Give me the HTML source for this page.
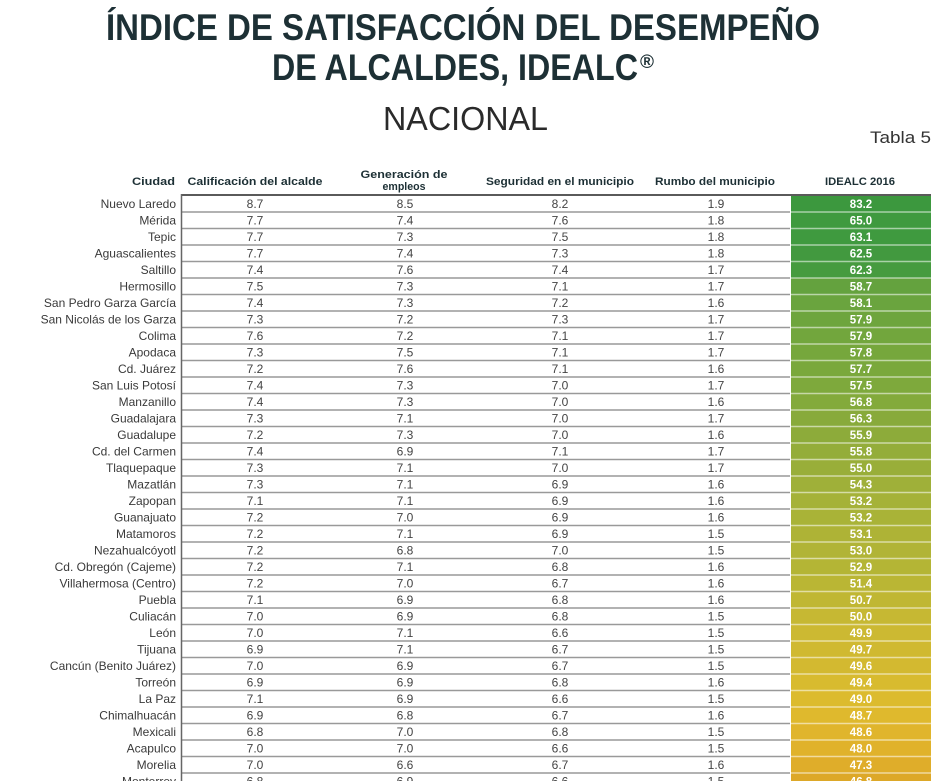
<!DOCTYPE html>
<html><head><meta charset="utf-8"><style>
html,body{margin:0;padding:0;background:#fff;}
svg{display:block;}
.c{font-family:"Liberation Sans",sans-serif;font-size:12px;fill:#3a3a3a;text-anchor:end;}
.v{font-family:"Liberation Sans",sans-serif;font-size:12px;fill:#444;text-anchor:middle;}
.g{font-family:"Liberation Sans",sans-serif;font-size:11.5px;font-weight:bold;fill:#fff;text-anchor:middle;}
.h{font-family:"Liberation Sans",sans-serif;font-size:11px;font-weight:bold;fill:#1d3035;text-anchor:middle;}
</style></head><body>
<svg width="949" height="781" viewBox="0 0 949 781" xmlns="http://www.w3.org/2000/svg">
<rect width="949" height="781" fill="#fff"/>
<text x="106" y="40" textLength="714" lengthAdjust="spacingAndGlyphs" font-family="Liberation Sans, sans-serif" font-weight="bold" font-size="37" fill="#1d3035">ÍNDICE DE SATISFACCIÓN DEL DESEMPEÑO</text>
<text x="272" y="80" textLength="366" lengthAdjust="spacingAndGlyphs" font-family="Liberation Sans, sans-serif" font-weight="bold" font-size="37" fill="#1d3035">DE ALCALDES, IDEALC</text>
<text x="640" y="68" font-family="Liberation Sans, sans-serif" font-weight="bold" font-size="19" fill="#1d3035">®</text>
<text x="383" y="130" textLength="165" lengthAdjust="spacingAndGlyphs" font-family="Liberation Sans, sans-serif" font-size="33" fill="#2a2a2a">NACIONAL</text>
<text x="870" y="143" textLength="61" lengthAdjust="spacingAndGlyphs" font-family="Liberation Sans, sans-serif" font-size="17" fill="#333">Tabla 5</text>

<text class="h" x="175" y="185" style="text-anchor:end" textLength="43" lengthAdjust="spacingAndGlyphs">Ciudad</text>
<text class="h" x="255" y="185" textLength="135" lengthAdjust="spacingAndGlyphs">Calificación del alcalde</text>
<text class="h" x="404" y="178" textLength="87" lengthAdjust="spacingAndGlyphs">Generación de</text>
<text class="h" x="404" y="190" textLength="43" lengthAdjust="spacingAndGlyphs">empleos</text>
<text class="h" x="560" y="185" textLength="148" lengthAdjust="spacingAndGlyphs">Seguridad en el municipio</text>
<text class="h" x="715" y="185" textLength="120" lengthAdjust="spacingAndGlyphs">Rumbo del municipio</text>
<text class="h" x="860" y="185" textLength="70" lengthAdjust="spacingAndGlyphs">IDEALC 2016</text>

<!-- green column -->
<g>
<rect x="791" y="194.5" width="140" height="17.5" fill="#3c983e"/>
<rect x="791" y="212" width="140" height="16.5" fill="#3f9a3f"/>
<rect x="791" y="228.5" width="140" height="16.5" fill="#3f9a3f"/>
<rect x="791" y="245" width="140" height="16.5" fill="#42993f"/>
<rect x="791" y="261.5" width="140" height="16.5" fill="#469b3f"/>
<rect x="791" y="278" width="140" height="16.5" fill="#64a23e"/>
<rect x="791" y="294.5" width="140" height="16.5" fill="#6aa43e"/>
<rect x="791" y="311" width="140" height="16.5" fill="#6ea53d"/>
<rect x="791" y="327.5" width="140" height="16.5" fill="#72a63d"/>
<rect x="791" y="344" width="140" height="16.5" fill="#76a73c"/>
<rect x="791" y="360.5" width="140" height="16.5" fill="#7aa83c"/>
<rect x="791" y="377" width="140" height="16.5" fill="#7ea93c"/>
<rect x="791" y="393.5" width="140" height="16.5" fill="#83aa3b"/>
<rect x="791" y="410" width="140" height="16.5" fill="#88aa3b"/>
<rect x="791" y="426.5" width="140" height="16.5" fill="#8dab3a"/>
<rect x="791" y="443" width="140" height="16.5" fill="#94ad3a"/>
<rect x="791" y="459.5" width="140" height="16.5" fill="#99ae39"/>
<rect x="791" y="476" width="140" height="16.5" fill="#9fb039"/>
<rect x="791" y="492.5" width="140" height="16.5" fill="#a5b238"/>
<rect x="791" y="509" width="140" height="16.5" fill="#a9b337"/>
<rect x="791" y="525.5" width="140" height="16.5" fill="#aeb336"/>
<rect x="791" y="542" width="140" height="16.5" fill="#b1b436"/>
<rect x="791" y="558.5" width="140" height="16.5" fill="#b4b535"/>
<rect x="791" y="575" width="140" height="16.5" fill="#bab634"/>
<rect x="791" y="591.5" width="140" height="16.5" fill="#c0b733"/>
<rect x="791" y="608" width="140" height="16.5" fill="#c6b833"/>
<rect x="791" y="624.5" width="140" height="16.5" fill="#ccb932"/>
<rect x="791" y="641" width="140" height="16.5" fill="#d0b931"/>
<rect x="791" y="657.5" width="140" height="16.5" fill="#d3b930"/>
<rect x="791" y="674" width="140" height="16.5" fill="#d8bb2f"/>
<rect x="791" y="690.5" width="140" height="16.5" fill="#dcbb2e"/>
<rect x="791" y="707" width="140" height="16.5" fill="#dfb92d"/>
<rect x="791" y="723.5" width="140" height="16.5" fill="#e0b52c"/>
<rect x="791" y="740" width="140" height="16.5" fill="#e0b22b"/>
<rect x="791" y="756.5" width="140" height="16.5" fill="#dfad2a"/>
<rect x="791" y="773" width="140" height="8" fill="#dda828"/>
</g>
<!-- lines -->
<g stroke-width="1.4">
<g stroke="#999">
<line x1="181" y1="212" x2="790" y2="212"/><line x1="181" y1="228.5" x2="790" y2="228.5"/><line x1="181" y1="245" x2="790" y2="245"/><line x1="181" y1="261.5" x2="790" y2="261.5"/><line x1="181" y1="278" x2="790" y2="278"/><line x1="181" y1="294.5" x2="790" y2="294.5"/><line x1="181" y1="311" x2="790" y2="311"/><line x1="181" y1="327.5" x2="790" y2="327.5"/><line x1="181" y1="344" x2="790" y2="344"/><line x1="181" y1="360.5" x2="790" y2="360.5"/><line x1="181" y1="377" x2="790" y2="377"/><line x1="181" y1="393.5" x2="790" y2="393.5"/><line x1="181" y1="410" x2="790" y2="410"/><line x1="181" y1="426.5" x2="790" y2="426.5"/><line x1="181" y1="443" x2="790" y2="443"/><line x1="181" y1="459.5" x2="790" y2="459.5"/><line x1="181" y1="476" x2="790" y2="476"/><line x1="181" y1="492.5" x2="790" y2="492.5"/><line x1="181" y1="509" x2="790" y2="509"/><line x1="181" y1="525.5" x2="790" y2="525.5"/><line x1="181" y1="542" x2="790" y2="542"/><line x1="181" y1="558.5" x2="790" y2="558.5"/><line x1="181" y1="575" x2="790" y2="575"/><line x1="181" y1="591.5" x2="790" y2="591.5"/><line x1="181" y1="608" x2="790" y2="608"/><line x1="181" y1="624.5" x2="790" y2="624.5"/><line x1="181" y1="641" x2="790" y2="641"/><line x1="181" y1="657.5" x2="790" y2="657.5"/><line x1="181" y1="674" x2="790" y2="674"/><line x1="181" y1="690.5" x2="790" y2="690.5"/><line x1="181" y1="707" x2="790" y2="707"/><line x1="181" y1="723.5" x2="790" y2="723.5"/><line x1="181" y1="740" x2="790" y2="740"/><line x1="181" y1="756.5" x2="790" y2="756.5"/><line x1="181" y1="773" x2="790" y2="773"/>
</g>
<g stroke="#fff" stroke-opacity="0.55">
<line x1="791" y1="212" x2="931" y2="212"/><line x1="791" y1="228.5" x2="931" y2="228.5"/><line x1="791" y1="245" x2="931" y2="245"/><line x1="791" y1="261.5" x2="931" y2="261.5"/><line x1="791" y1="278" x2="931" y2="278"/><line x1="791" y1="294.5" x2="931" y2="294.5"/><line x1="791" y1="311" x2="931" y2="311"/><line x1="791" y1="327.5" x2="931" y2="327.5"/><line x1="791" y1="344" x2="931" y2="344"/><line x1="791" y1="360.5" x2="931" y2="360.5"/><line x1="791" y1="377" x2="931" y2="377"/><line x1="791" y1="393.5" x2="931" y2="393.5"/><line x1="791" y1="410" x2="931" y2="410"/><line x1="791" y1="426.5" x2="931" y2="426.5"/><line x1="791" y1="443" x2="931" y2="443"/><line x1="791" y1="459.5" x2="931" y2="459.5"/><line x1="791" y1="476" x2="931" y2="476"/><line x1="791" y1="492.5" x2="931" y2="492.5"/><line x1="791" y1="509" x2="931" y2="509"/><line x1="791" y1="525.5" x2="931" y2="525.5"/><line x1="791" y1="542" x2="931" y2="542"/><line x1="791" y1="558.5" x2="931" y2="558.5"/><line x1="791" y1="575" x2="931" y2="575"/><line x1="791" y1="591.5" x2="931" y2="591.5"/><line x1="791" y1="608" x2="931" y2="608"/><line x1="791" y1="624.5" x2="931" y2="624.5"/><line x1="791" y1="641" x2="931" y2="641"/><line x1="791" y1="657.5" x2="931" y2="657.5"/><line x1="791" y1="674" x2="931" y2="674"/><line x1="791" y1="690.5" x2="931" y2="690.5"/><line x1="791" y1="707" x2="931" y2="707"/><line x1="791" y1="723.5" x2="931" y2="723.5"/><line x1="791" y1="740" x2="931" y2="740"/><line x1="791" y1="756.5" x2="931" y2="756.5"/><line x1="791" y1="773" x2="931" y2="773"/>
</g>
<line x1="181" y1="195" x2="931" y2="195" stroke="#5a5a5a" stroke-width="2"/>
<line x1="181.5" y1="194" x2="181.5" y2="781" stroke="#666" stroke-width="1.5"/>
</g>

<!-- rows -->
<g>
<text class="c" x="176" y="208">Nuevo Laredo</text><text class="v" x="255" y="208">8.7</text><text class="v" x="405" y="208">8.5</text><text class="v" x="560" y="208">8.2</text><text class="v" x="716" y="208">1.9</text><text class="g" x="861" y="208">83.2</text>
<text class="c" x="176" y="224.5">Mérida</text><text class="v" x="255" y="224.5">7.7</text><text class="v" x="405" y="224.5">7.4</text><text class="v" x="560" y="224.5">7.6</text><text class="v" x="716" y="224.5">1.8</text><text class="g" x="861" y="224.5">65.0</text>
<text class="c" x="176" y="241">Tepic</text><text class="v" x="255" y="241">7.7</text><text class="v" x="405" y="241">7.3</text><text class="v" x="560" y="241">7.5</text><text class="v" x="716" y="241">1.8</text><text class="g" x="861" y="241">63.1</text>
<text class="c" x="176" y="257.5">Aguascalientes</text><text class="v" x="255" y="257.5">7.7</text><text class="v" x="405" y="257.5">7.4</text><text class="v" x="560" y="257.5">7.3</text><text class="v" x="716" y="257.5">1.8</text><text class="g" x="861" y="257.5">62.5</text>
<text class="c" x="176" y="274">Saltillo</text><text class="v" x="255" y="274">7.4</text><text class="v" x="405" y="274">7.6</text><text class="v" x="560" y="274">7.4</text><text class="v" x="716" y="274">1.7</text><text class="g" x="861" y="274">62.3</text>
<text class="c" x="176" y="290.5">Hermosillo</text><text class="v" x="255" y="290.5">7.5</text><text class="v" x="405" y="290.5">7.3</text><text class="v" x="560" y="290.5">7.1</text><text class="v" x="716" y="290.5">1.7</text><text class="g" x="861" y="290.5">58.7</text>
<text class="c" x="176" y="307">San Pedro Garza García</text><text class="v" x="255" y="307">7.4</text><text class="v" x="405" y="307">7.3</text><text class="v" x="560" y="307">7.2</text><text class="v" x="716" y="307">1.6</text><text class="g" x="861" y="307">58.1</text>
<text class="c" x="176" y="323.5">San Nicolás de los Garza</text><text class="v" x="255" y="323.5">7.3</text><text class="v" x="405" y="323.5">7.2</text><text class="v" x="560" y="323.5">7.3</text><text class="v" x="716" y="323.5">1.7</text><text class="g" x="861" y="323.5">57.9</text>
<text class="c" x="176" y="340">Colima</text><text class="v" x="255" y="340">7.6</text><text class="v" x="405" y="340">7.2</text><text class="v" x="560" y="340">7.1</text><text class="v" x="716" y="340">1.7</text><text class="g" x="861" y="340">57.9</text>
<text class="c" x="176" y="356.5">Apodaca</text><text class="v" x="255" y="356.5">7.3</text><text class="v" x="405" y="356.5">7.5</text><text class="v" x="560" y="356.5">7.1</text><text class="v" x="716" y="356.5">1.7</text><text class="g" x="861" y="356.5">57.8</text>
<text class="c" x="176" y="373">Cd. Juárez</text><text class="v" x="255" y="373">7.2</text><text class="v" x="405" y="373">7.6</text><text class="v" x="560" y="373">7.1</text><text class="v" x="716" y="373">1.6</text><text class="g" x="861" y="373">57.7</text>
<text class="c" x="176" y="389.5">San Luis Potosí</text><text class="v" x="255" y="389.5">7.4</text><text class="v" x="405" y="389.5">7.3</text><text class="v" x="560" y="389.5">7.0</text><text class="v" x="716" y="389.5">1.7</text><text class="g" x="861" y="389.5">57.5</text>
<text class="c" x="176" y="406">Manzanillo</text><text class="v" x="255" y="406">7.4</text><text class="v" x="405" y="406">7.3</text><text class="v" x="560" y="406">7.0</text><text class="v" x="716" y="406">1.6</text><text class="g" x="861" y="406">56.8</text>
<text class="c" x="176" y="422.5">Guadalajara</text><text class="v" x="255" y="422.5">7.3</text><text class="v" x="405" y="422.5">7.1</text><text class="v" x="560" y="422.5">7.0</text><text class="v" x="716" y="422.5">1.7</text><text class="g" x="861" y="422.5">56.3</text>
<text class="c" x="176" y="439">Guadalupe</text><text class="v" x="255" y="439">7.2</text><text class="v" x="405" y="439">7.3</text><text class="v" x="560" y="439">7.0</text><text class="v" x="716" y="439">1.6</text><text class="g" x="861" y="439">55.9</text>
<text class="c" x="176" y="455.5">Cd. del Carmen</text><text class="v" x="255" y="455.5">7.4</text><text class="v" x="405" y="455.5">6.9</text><text class="v" x="560" y="455.5">7.1</text><text class="v" x="716" y="455.5">1.7</text><text class="g" x="861" y="455.5">55.8</text>
<text class="c" x="176" y="472">Tlaquepaque</text><text class="v" x="255" y="472">7.3</text><text class="v" x="405" y="472">7.1</text><text class="v" x="560" y="472">7.0</text><text class="v" x="716" y="472">1.7</text><text class="g" x="861" y="472">55.0</text>
<text class="c" x="176" y="488.5">Mazatlán</text><text class="v" x="255" y="488.5">7.3</text><text class="v" x="405" y="488.5">7.1</text><text class="v" x="560" y="488.5">6.9</text><text class="v" x="716" y="488.5">1.6</text><text class="g" x="861" y="488.5">54.3</text>
<text class="c" x="176" y="505">Zapopan</text><text class="v" x="255" y="505">7.1</text><text class="v" x="405" y="505">7.1</text><text class="v" x="560" y="505">6.9</text><text class="v" x="716" y="505">1.6</text><text class="g" x="861" y="505">53.2</text>
<text class="c" x="176" y="521.5">Guanajuato</text><text class="v" x="255" y="521.5">7.2</text><text class="v" x="405" y="521.5">7.0</text><text class="v" x="560" y="521.5">6.9</text><text class="v" x="716" y="521.5">1.6</text><text class="g" x="861" y="521.5">53.2</text>
<text class="c" x="176" y="538">Matamoros</text><text class="v" x="255" y="538">7.2</text><text class="v" x="405" y="538">7.1</text><text class="v" x="560" y="538">6.9</text><text class="v" x="716" y="538">1.5</text><text class="g" x="861" y="538">53.1</text>
<text class="c" x="176" y="554.5">Nezahualcóyotl</text><text class="v" x="255" y="554.5">7.2</text><text class="v" x="405" y="554.5">6.8</text><text class="v" x="560" y="554.5">7.0</text><text class="v" x="716" y="554.5">1.5</text><text class="g" x="861" y="554.5">53.0</text>
<text class="c" x="176" y="571">Cd. Obregón (Cajeme)</text><text class="v" x="255" y="571">7.2</text><text class="v" x="405" y="571">7.1</text><text class="v" x="560" y="571">6.8</text><text class="v" x="716" y="571">1.6</text><text class="g" x="861" y="571">52.9</text>
<text class="c" x="176" y="587.5">Villahermosa (Centro)</text><text class="v" x="255" y="587.5">7.2</text><text class="v" x="405" y="587.5">7.0</text><text class="v" x="560" y="587.5">6.7</text><text class="v" x="716" y="587.5">1.6</text><text class="g" x="861" y="587.5">51.4</text>
<text class="c" x="176" y="604">Puebla</text><text class="v" x="255" y="604">7.1</text><text class="v" x="405" y="604">6.9</text><text class="v" x="560" y="604">6.8</text><text class="v" x="716" y="604">1.6</text><text class="g" x="861" y="604">50.7</text>
<text class="c" x="176" y="620.5">Culiacán</text><text class="v" x="255" y="620.5">7.0</text><text class="v" x="405" y="620.5">6.9</text><text class="v" x="560" y="620.5">6.8</text><text class="v" x="716" y="620.5">1.5</text><text class="g" x="861" y="620.5">50.0</text>
<text class="c" x="176" y="637">León</text><text class="v" x="255" y="637">7.0</text><text class="v" x="405" y="637">7.1</text><text class="v" x="560" y="637">6.6</text><text class="v" x="716" y="637">1.5</text><text class="g" x="861" y="637">49.9</text>
<text class="c" x="176" y="653.5">Tijuana</text><text class="v" x="255" y="653.5">6.9</text><text class="v" x="405" y="653.5">7.1</text><text class="v" x="560" y="653.5">6.7</text><text class="v" x="716" y="653.5">1.5</text><text class="g" x="861" y="653.5">49.7</text>
<text class="c" x="176" y="670">Cancún (Benito Juárez)</text><text class="v" x="255" y="670">7.0</text><text class="v" x="405" y="670">6.9</text><text class="v" x="560" y="670">6.7</text><text class="v" x="716" y="670">1.5</text><text class="g" x="861" y="670">49.6</text>
<text class="c" x="176" y="686.5">Torreón</text><text class="v" x="255" y="686.5">6.9</text><text class="v" x="405" y="686.5">6.9</text><text class="v" x="560" y="686.5">6.8</text><text class="v" x="716" y="686.5">1.6</text><text class="g" x="861" y="686.5">49.4</text>
<text class="c" x="176" y="703">La Paz</text><text class="v" x="255" y="703">7.1</text><text class="v" x="405" y="703">6.9</text><text class="v" x="560" y="703">6.6</text><text class="v" x="716" y="703">1.5</text><text class="g" x="861" y="703">49.0</text>
<text class="c" x="176" y="719.5">Chimalhuacán</text><text class="v" x="255" y="719.5">6.9</text><text class="v" x="405" y="719.5">6.8</text><text class="v" x="560" y="719.5">6.7</text><text class="v" x="716" y="719.5">1.6</text><text class="g" x="861" y="719.5">48.7</text>
<text class="c" x="176" y="736">Mexicali</text><text class="v" x="255" y="736">6.8</text><text class="v" x="405" y="736">7.0</text><text class="v" x="560" y="736">6.8</text><text class="v" x="716" y="736">1.5</text><text class="g" x="861" y="736">48.6</text>
<text class="c" x="176" y="752.5">Acapulco</text><text class="v" x="255" y="752.5">7.0</text><text class="v" x="405" y="752.5">7.0</text><text class="v" x="560" y="752.5">6.6</text><text class="v" x="716" y="752.5">1.5</text><text class="g" x="861" y="752.5">48.0</text>
<text class="c" x="176" y="769">Morelia</text><text class="v" x="255" y="769">7.0</text><text class="v" x="405" y="769">6.6</text><text class="v" x="560" y="769">6.7</text><text class="v" x="716" y="769">1.6</text><text class="g" x="861" y="769">47.3</text>
<text class="c" x="176" y="785.5">Monterrey</text><text class="v" x="255" y="785.5">6.8</text><text class="v" x="405" y="785.5">6.9</text><text class="v" x="560" y="785.5">6.6</text><text class="v" x="716" y="785.5">1.5</text><text class="g" x="861" y="785.5">46.8</text>
</g>
</svg>
</body></html>
